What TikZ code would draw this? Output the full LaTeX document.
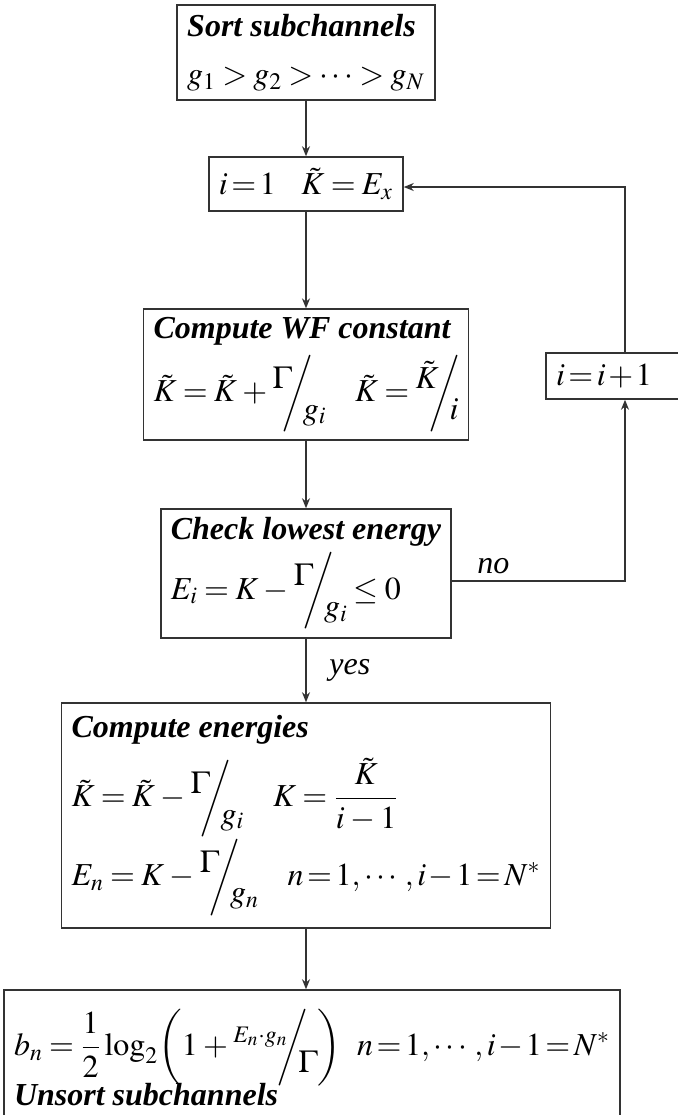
\documentclass[tikz,border=0pt]{standalone}
\usepackage{amsmath}
\usepackage{graphicx}
\usepackage{mathptmx}
\usepackage[no-math]{fontspec}
\setmainfont{Liberation Serif}
\usetikzlibrary{arrows.meta}

\newcommand{\slfrac}[2]{\raisebox{0.9ex}{$#1$}\kern-0.3em\scalebox{0.9}[1]{$\bigg/$}\kern-0.3em\raisebox{-1.2ex}{$#2$}}
\newcommand{\ttl}[1]{\textbf{\textit{#1}}}
\newcommand{\tight}[1]{{\thickmuskip=2mu plus 1mu\medmuskip=1.5mu $#1$}}
\thickmuskip=3.5mu plus 2mu
\medmuskip=3mu plus 1mu

\tikzset{
	blk/.style={draw=black!80, line width=0.75pt, align=left, inner xsep=5pt, inner ysep=4pt},
	flow/.style={draw=black!80, line width=0.75pt, -{Stealth[length=5pt,width=4pt]}},
}

\begin{document}
\begin{tikzpicture}[x=0.5pt,y=-0.5pt,font=\fontsize{16}{20}\selectfont]
	\useasboundingbox (0,0) rectangle (677,1115);

	% Ordinamento dei sottocanali
	\node[blk, minimum width=124.5pt, minimum height=47.5pt] (sort) at (306,52.5)
		{\ttl{Sort subchannels}\\[4pt] $g_1>g_2>\cdots>g_N$};

	% Inizializzazione
	\node[blk, minimum width=95pt, minimum height=27pt] (init) at (306,184)
		{\tight{i=1}\hspace{0.8em}$\tilde{K}=E_x$};

	% Costante WF
	\node[blk, minimum width=159pt, minimum height=62.5pt] (wf) at (306,374.5)
		{\ttl{Compute WF constant}\\[4pt]
		 $\tilde{K}=\tilde{K}+\slfrac{\Gamma}{g_i}$\hspace{0.9em}$\tilde{K}=\slfrac{\tilde{K}}{i}$};

	% Controllo energia minima
	\node[blk, minimum width=144pt, minimum height=64.5pt] (check) at (306,573.5)
		{\ttl{Check lowest energy}\\[2pt] $E_i=K-\slfrac{\Gamma}{g_i}\le 0$};

	% Energie
	\node[blk, minimum width=227.5pt, minimum height=112.5pt] (energies) at (306,815.5)
		{\ttl{Compute energies}\\[6pt]
		 $\tilde{K}=\tilde{K}-\slfrac{\Gamma}{g_i}$\hspace{0.9em}$K=\dfrac{\tilde{K}}{i-1}$\\[0pt]
		 $E_n=K-\slfrac{\Gamma}{g_n}$\hspace{0.9em}\tight{n=1,\cdots,i-1=N^*}};

	% Bit per sottocanale
	\node[blk, minimum width=300pt, minimum height=67.5pt] (bits) at (312,1057.5)
		{$b_n=\dfrac{1}{2}\log_2\!\bigg(1+\slfrac{\scriptstyle E_n\cdot g_n}{\Gamma}\bigg)$\hspace{0.5em}\tight{n=1,\cdots,i-1=N^*}\\[-2pt]
		 \ttl{Unsort subchannels}};

	% Incremento
	\node[blk, text width=69pt, minimum height=23pt] (incr) at (625,376) {\tight{i=i+1}};

	% Collegamenti
	\draw[flow] (sort) -- (init);
	\draw[flow] (init) -- (wf);
	\draw[flow] (wf) -- (check);
	\draw[flow] (check) -- node[right=8pt] {\textit{yes}} (energies);
	\draw[flow] (energies.south) -- (energies.south |- bits.north);
	\draw[flow] ([yshift=-3.75pt]check.east) -| node[pos=0.12, above] {\textit{no}} (incr.south);
	\draw[flow] (incr.north) |- ([yshift=-1.5pt]init.east);
\end{tikzpicture}
\end{document}
